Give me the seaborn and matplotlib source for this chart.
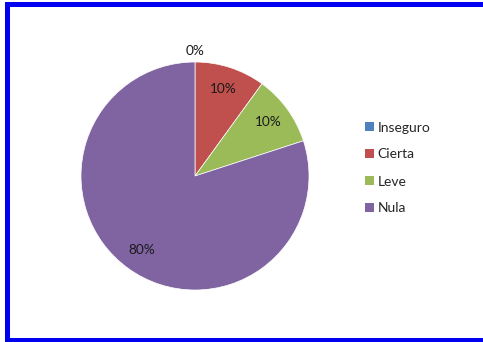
import numpy as np
import matplotlib
matplotlib.use("Agg")
import matplotlib.pyplot as plt
from matplotlib.patches import Patch, Rectangle
import seaborn as sns

# Data
categories = ["Inseguro", "Cierta", "Leve", "Nula"]
values = [0, 10, 10, 80]
colors = ["#4F81BD", "#C0504D", "#9BBB59", "#8064A2"]

sns.set_style("white")
plt.rcParams["font.family"] = ["Lato", "DejaVu Sans"]
palette = sns.color_palette(colors)

fig = plt.figure(figsize=(4.83, 3.42), dpi=100)
fig.patch.set_facecolor("white")

W, H = 483, 342
cx, cy, R = 195, 176, 114
ax = fig.add_axes([(cx - R) / W, (H - cy - R) / H, 2 * R / W, 2 * R / H])

wedges, _ = ax.pie(values, colors=palette, startangle=90, counterclock=False,
                   radius=1.0, wedgeprops=dict(linewidth=0.5, edgecolor="white"))
ax.set_xlim(-1, 1)
ax.set_ylim(-1, 1)
ax.set_aspect("equal")
ax.axis("off")

# Percentage labels at each wedge's mid-angle
total = sum(values)
for w, v in zip(wedges, values):
    mid = np.deg2rad((w.theta1 + w.theta2) / 2)
    r = 1.1 if v == 0 else 0.8
    ax.text(r * np.cos(mid), r * np.sin(mid), f"{v / total * 100:.0f}%",
            ha="center", va="center", fontsize=9.8, color="#1a1a1a", clip_on=False)

# Legend
handles = [Patch(facecolor=c, edgecolor="none") for c in palette]
fig.legend(handles, categories, loc="center left",
           bbox_to_anchor=(365 / W, (H - 168) / H), frameon=False,
           fontsize=10, labelspacing=1.08, handlelength=0.65, handleheight=0.65,
           handletextpad=0.25, borderpad=0, borderaxespad=0)

# Blue frame around the chart
blue = "#0000F0"
for x0, y0, x1, y1 in [(5, 2, W, 7), (5, 2, 10, H), (5, 338, W, H)]:
    fig.patches.append(Rectangle((x0 / W, 1 - y1 / H), (x1 - x0) / W, (y1 - y0) / H,
                                 transform=fig.transFigure, facecolor=blue,
                                 edgecolor="none", zorder=10))

fig.savefig("out.png", dpi=100)
